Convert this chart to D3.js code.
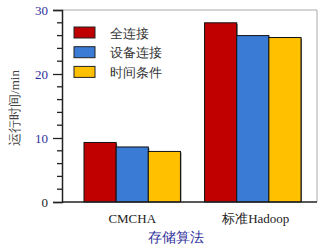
<!DOCTYPE html>
<html>
<head>
<meta charset="utf-8">
<script src="https://cdn.jsdelivr.net/npm/d3@7"></script>
<style>
body { margin: 0; background: #fff; }
svg { display: block; }
</style>
</head>
<body>
<div id="chart"></div>
<script>
// data
const categories = ["CMCHA", "标准Hadoop"];
const seriesNames = ["全连接", "设备连接", "时间条件"];
const seriesColors = ["#c00000", "#3a7bd5", "#ffc000"];
const fullConn = [9.3, 28.0];
const deviceConn = [8.6, 26.0];
const timeCond = [7.9, 25.7];
const yTicks = [0, 10, 20, 30];

const W = 321, H = 248;
const margin = { top: 10, right: 4, bottom: 46, left: 62 };

const svg = d3.select("#chart").append("svg")
    .attr("width", W)
    .attr("height", H)
    .style("font-family", "'Liberation Serif', 'DejaVu Serif', serif");

const y = d3.scaleLinear()
    .domain([0, 30])
    .range([H - margin.bottom, margin.top])

const x0 = d3.scaleBand()
    .domain(categories)
    .range([84, 301])
    .paddingInner(0.2)

const x1 = d3.scaleBand()
    .domain(seriesNames)
    .range([0, x0.bandwidth()])

const values = [fullConn, deviceConn, timeCond];
const rows = [];
categories.forEach((c, i) => {
    seriesNames.forEach((s, j) => {
        rows.push({ cat: c, name: s, value: values[j][i], color: seriesColors[j] })
    })
})

// frame top/right
svg.append("path")
    .attr("d", `M${margin.left},${margin.top}H${W - margin.right}V${H - margin.bottom}`)
    .attr("fill", "none")
    .attr("stroke", "#aaa")
    .attr("stroke-width", 1)

// bars (with a thin shadow on the right)
const bars = svg.append("g")
bars.selectAll("rect.shadow")
    .data(rows)
    .join("rect")
    .attr("class", "shadow")
    .attr("x", d => x0(d.cat) + x1(d.name) + 1)
    .attr("y", d => y(d.value) + 1)
    .attr("width", x1.bandwidth())
    .attr("height", d => y(0) - y(d.value) - 1)
    .attr("fill", "#666")
bars.selectAll("rect.bar")
    .data(rows)
    .join("rect")
    .attr("class", "bar")
    .attr("x", d => x0(d.cat) + x1(d.name))
    .attr("y", d => y(d.value))
    .attr("width", x1.bandwidth())
    .attr("height", d => y(0) - y(d.value))
    .attr("fill", d => d.color)
    .attr("stroke", "#111")
    .attr("stroke-width", 1)

// y axis
const yAxis = svg.append("g")
    .attr("transform", `translate(${margin.left},0)`)
    .call(d3.axisLeft(y).tickValues(yTicks).tickSize(9).tickPadding(5))
yAxis.select(".domain").attr("stroke", "#222").attr("stroke-width", 1.5)
yAxis.selectAll(".tick line").attr("stroke", "#222").attr("stroke-width", 1.3)
yAxis.selectAll(".tick text")
    .attr("font-size", 13)
    .attr("font-family", "'Liberation Serif', serif")
    .attr("fill", d => d === 0 ? "#222" : "#2e2e9a")

const minor = d3.range(0, 31, 2).filter(v => v % 10 !== 0);
svg.append("g")
    .selectAll("line")
    .data(minor)
    .join("line")
    .attr("x1", margin.left - 5)
    .attr("x2", margin.left)
    .attr("y1", d => y(d))
    .attr("y2", d => y(d))
    .attr("stroke", "#222")
    .attr("stroke-width", 1.3)

// x axis line
svg.append("line")
    .attr("x1", margin.left)
    .attr("x2", W - margin.right)
    .attr("y1", y(0))
    .attr("y2", y(0))
    .attr("stroke", "#222")
    .attr("stroke-width", 1.5)

// category labels
svg.append("g")
    .selectAll("text")
    .data(categories)
    .join("text")
    .attr("x", d => x0(d) + x0.bandwidth() / 2 + (d === "CMCHA" ? 0 : 3))
    .attr("y", 223)
    .attr("text-anchor", "middle")
    .attr("font-size", 13)
    .attr("fill", "#222")
    .text(d => d)

// axis titles
svg.append("text")
    .attr("x", 176)
    .attr("y", 242)
    .attr("text-anchor", "middle")
    .attr("font-size", 14)
    .attr("fill", "#2e2e9a")
    .text("存储算法")

svg.append("text")
    .attr("transform", `translate(19,108) rotate(-90)`)
    .attr("text-anchor", "middle")
    .attr("font-size", 13)
    .attr("fill", "#444")
    .text("运行时间/min")

// legend
const legend = svg.append("g")
    .selectAll("g")
    .data(seriesNames)
    .join("g")
    .attr("transform", (d, i) => `translate(74,${27 + i * 19.7})`)
legend.append("rect")
    .attr("width", 21)
    .attr("height", 11)
    .attr("fill", (d, i) => seriesColors[i])
    .attr("stroke", "#222")
    .attr("stroke-width", 1)
legend.append("text")
    .attr("x", 36)
    .attr("y", 10.5)
    .attr("font-size", 13)
    .attr("fill", "#333")
    .text(d => d)
</script>
</body>
</html>
